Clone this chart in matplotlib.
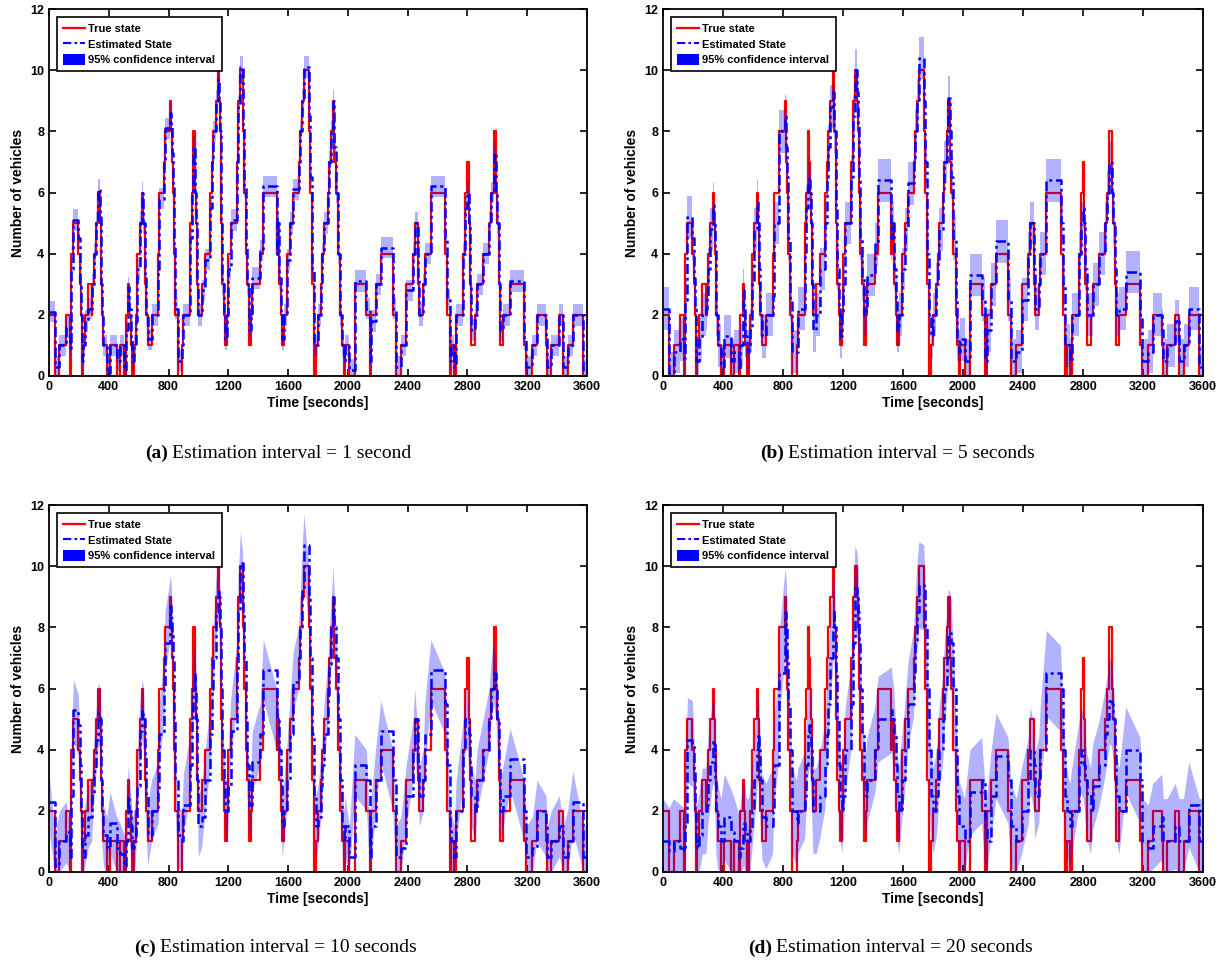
import numpy as np
import matplotlib.pyplot as plt
from matplotlib.patches import Patch
from matplotlib.lines import Line2D

# true state: time where each step starts and the vehicle count
t_true = [0, 40, 70, 115, 140, 145, 163, 196, 205, 212, 218, 228, 240, 263, 285, 290, 300, 315, 330, 342,
          347, 350, 353, 364, 386, 409, 453, 475, 505, 515, 530, 538, 548, 558, 570, 580, 590, 609, 624, 632,
          640, 648, 660, 686, 731, 738, 770, 776, 813, 819, 823, 828, 835, 845, 860, 890, 899, 944, 955, 965,
          975, 980, 985, 990, 993, 999, 1021, 1045, 1080, 1090, 1100, 1115, 1130, 1138, 1143, 1150, 1160, 1170, 1180, 1192,
          1200, 1215, 1256, 1265, 1280, 1295, 1300, 1308, 1315, 1325, 1340, 1350, 1360, 1412, 1434, 1523, 1528, 1540, 1550, 1560,
          1572, 1590, 1610, 1634, 1670, 1680, 1690, 1705, 1738, 1748, 1760, 1770, 1785, 1800, 1820, 1830, 1840, 1865, 1875, 1890,
          1900, 1910, 1920, 1935, 1950, 1962, 1975, 1980, 2010, 2046, 2124, 2145, 2157, 2185, 2220, 2300, 2320, 2355, 2390, 2436,
          2447, 2470, 2478, 2505, 2514, 2555, 2650, 2665, 2680, 2690, 2712, 2725, 2772, 2785, 2800, 2808, 2815, 2825, 2850, 2865,
          2905, 2945, 2960, 2975, 2990, 3000, 3010, 3020, 3040, 3085, 3180, 3195, 3235, 3265, 3325, 3335, 3360, 3415, 3440, 3470,
          3505, 3575]
v_true = [2, 0, 1, 2, 0, 4, 5, 4, 3, 2, 0, 1, 2, 3, 2, 3, 4, 5, 6, 5,
          4, 3, 2, 1, 0, 1, 0, 1, 0, 2, 3, 2, 1, 0, 1, 2, 4, 5, 6, 5,
          3, 2, 1, 2, 4, 6, 7, 8, 9, 8, 7, 6, 4, 2, 0, 1, 2, 5, 6, 8,
          7, 6, 5, 4, 3, 2, 3, 4, 6, 7, 8, 9, 10, 9, 8, 5, 3, 2, 1, 2,
          4, 5, 7, 9, 10, 9, 8, 6, 4, 3, 1, 2, 3, 4, 6, 4, 5, 3, 2, 1,
          2, 4, 5, 6, 7, 8, 9, 10, 8, 6, 3, 0, 1, 2, 3, 4, 5, 6, 7, 8,
          9, 7, 6, 4, 2, 1, 0, 1, 0, 3, 2, 0, 2, 3, 4, 2, 0, 1, 3, 4,
          5, 3, 2, 3, 4, 6, 4, 2, 0, 1, 0, 2, 4, 6, 7, 5, 3, 1, 2, 3,
          4, 5, 6, 8, 6, 5, 3, 1, 2, 3, 1, 0, 1, 2, 1, 0, 1, 2, 0, 1,
          2, 0]

# estimated state for each step of the true state, one list per estimation interval
est_a = [2.1, 0.3, 1.0, 1.6, 0.9, 3.5, 5.1, 4.5, 3.0, 2.0, 0.5, 1.0, 1.8, 2.2, 2.2, 3.0, 4.0, 5.0, 6.1, 5.2,
         4.0, 3.0, 2.0, 1.0, 0.1, 1.0, 0.5, 1.0, 0.2, 1.5, 2.9, 2.2, 1.2, 0.5, 1.0, 1.8, 3.5, 5.0, 6.0, 5.0,
         3.2, 2.0, 1.2, 2.0, 3.5, 5.8, 7.0, 8.1, 8.6, 8.2, 7.3, 6.2, 4.2, 2.2, 0.5, 1.0, 2.0, 4.5, 6.0, 7.5,
         7.0, 6.0, 5.0, 4.0, 3.0, 2.0, 2.8, 3.8, 5.5, 7.0, 8.0, 9.0, 9.7, 9.0, 8.0, 5.0, 3.0, 2.0, 1.2, 2.0,
         3.5, 5.1, 7.0, 8.8, 10.1, 9.2, 8.2, 6.2, 4.2, 3.0, 1.5, 2.0, 3.2, 4.1, 6.2, 4.0, 5.0, 3.2, 2.0, 1.2,
         2.0, 3.8, 5.0, 6.1, 7.0, 8.0, 9.0, 10.1, 8.5, 6.5, 3.5, 1.0, 1.0, 2.0, 3.0, 4.0, 5.0, 6.0, 7.0, 8.0,
         9.0, 7.5, 6.0, 4.0, 2.0, 1.0, 0.5, 1.0, 0.2, 3.1, 2.2, 0.5, 1.8, 3.0, 4.2, 2.2, 0.3, 1.0, 2.8, 4.0,
         5.0, 3.2, 2.0, 3.0, 4.0, 6.2, 4.5, 2.5, 0.5, 1.0, 0.3, 2.0, 4.0, 5.5, 6.0, 5.0, 3.0, 1.5, 2.0, 3.0,
         4.0, 5.0, 6.0, 7.3, 6.0, 5.0, 3.0, 1.5, 2.0, 3.1, 1.2, 0.3, 1.0, 2.0, 1.2, 0.3, 1.0, 2.0, 0.3, 1.0,
         2.0, 0.2]
est_b = [2.2, 0.1, 0.8, 1.2, 0.6, 2.5, 5.2, 4.5, 3.2, 2.2, 0.5, 0.5, 1.2, 2.0, 2.2, 2.6, 3.5, 4.8, 5.6, 5.0,
         4.2, 3.0, 2.0, 1.0, 0.3, 1.3, 0.5, 0.8, 0.2, 1.0, 2.8, 2.2, 1.3, 0.8, 1.0, 1.5, 3.0, 4.8, 5.7, 5.0,
         3.5, 2.0, 1.3, 2.0, 2.6, 5.0, 6.5, 8.0, 8.5, 8.2, 7.5, 6.5, 4.5, 2.5, 0.8, 0.8, 2.2, 4.0, 5.5, 6.3,
         6.5, 6.0, 5.0, 4.0, 3.0, 1.5, 2.0, 3.5, 5.0, 6.5, 7.5, 8.8, 9.3, 9.0, 8.0, 5.5, 3.5, 2.2, 1.3, 2.0,
         3.0, 5.0, 6.5, 8.5, 10.0, 9.3, 8.2, 6.5, 4.5, 3.2, 2.0, 2.2, 3.3, 4.3, 6.4, 4.5, 5.0, 3.5, 2.5, 1.5,
         2.0, 3.5, 4.8, 6.3, 7.0, 8.0, 9.0, 10.4, 9.0, 7.0, 4.0, 2.0, 1.3, 2.0, 3.0, 3.8, 4.8, 6.0, 7.0, 8.0,
         9.1, 8.0, 6.5, 4.5, 2.5, 1.2, 0.8, 1.2, 0.5, 3.3, 2.5, 0.5, 1.5, 3.0, 4.4, 2.5, 0.5, 0.8, 2.5, 4.0,
         5.0, 3.5, 2.2, 3.0, 4.0, 6.4, 5.0, 3.0, 1.0, 1.0, 0.5, 2.0, 4.0, 5.0, 5.5, 5.0, 3.5, 2.0, 2.0, 3.0,
         4.0, 5.0, 6.0, 7.0, 6.0, 5.0, 3.5, 2.0, 2.2, 3.4, 2.0, 0.5, 0.8, 2.0, 1.5, 0.5, 1.0, 1.8, 0.5, 1.0,
         2.2, 0.3]
est_c = [2.3, 0.2, 1.0, 1.3, 0.5, 2.5, 5.3, 4.8, 3.5, 2.0, 0.8, 0.5, 1.2, 1.8, 2.0, 2.5, 3.3, 4.3, 5.2, 5.0,
         4.2, 3.0, 2.0, 1.2, 0.8, 1.6, 0.8, 0.6, 0.2, 1.0, 2.5, 2.0, 1.5, 0.8, 1.0, 1.5, 2.8, 4.6, 5.3, 5.0,
         3.8, 2.5, 1.2, 2.0, 2.6, 4.5, 6.0, 7.5, 8.7, 8.3, 7.8, 7.0, 5.0, 3.0, 1.2, 1.0, 2.2, 3.5, 5.0, 6.0,
         6.5, 6.0, 5.0, 4.0, 3.0, 1.5, 1.8, 3.0, 4.5, 6.0, 7.0, 8.5, 9.2, 9.0, 8.0, 6.0, 4.0, 3.0, 2.0, 2.0,
         2.8, 4.6, 6.5, 8.5, 10.1, 9.5, 8.5, 7.0, 5.0, 3.5, 2.2, 2.2, 3.6, 4.5, 6.6, 5.0, 5.0, 4.0, 3.0, 1.5,
         2.0, 3.0, 4.5, 6.2, 7.0, 8.0, 9.2, 10.7, 9.0, 7.0, 4.5, 2.5, 1.5, 1.8, 2.8, 3.5, 4.5, 5.8, 6.8, 8.0,
         9.0, 8.0, 7.0, 5.0, 3.0, 1.5, 1.0, 1.5, 0.5, 3.5, 3.0, 0.5, 1.5, 3.0, 4.6, 3.0, 0.5, 0.8, 2.5, 4.0,
         5.0, 3.5, 2.5, 3.0, 4.5, 6.6, 5.5, 3.5, 1.5, 1.0, 0.5, 2.0, 4.0, 5.0, 5.0, 4.5, 3.5, 2.5, 2.0, 3.0,
         4.0, 5.0, 6.0, 6.5, 6.0, 5.0, 3.5, 2.0, 2.5, 3.7, 2.0, 0.5, 0.8, 2.0, 1.5, 0.5, 1.0, 1.5, 0.5, 1.0,
         2.3, 0.5]
est_d = [1.0, 0.7, 1.0, 0.8, 0.7, 1.5, 4.3, 4.2, 3.3, 2.0, 1.0, 0.8, 1.2, 2.0, 2.0, 2.2, 3.0, 3.6, 4.3, 4.2,
         3.0, 2.5, 2.0, 1.5, 1.0, 1.8, 1.3, 1.0, 0.5, 0.8, 1.5, 1.6, 1.3, 1.0, 1.0, 1.4, 2.0, 3.0, 4.0, 4.5,
         4.0, 3.0, 1.8, 1.5, 2.0, 3.5, 5.0, 6.5, 8.5, 8.3, 8.0, 7.0, 5.5, 4.0, 2.0, 1.6, 2.0, 2.5, 3.5, 4.5,
         4.8, 4.5, 4.0, 3.5, 3.0, 2.0, 2.0, 2.5, 3.5, 4.5, 5.5, 7.0, 8.0, 8.5, 8.0, 6.5, 5.0, 3.5, 2.5, 2.0,
         2.5, 4.0, 5.5, 7.5, 9.3, 9.0, 8.5, 7.5, 6.0, 4.5, 3.0, 2.5, 3.0, 4.0, 5.0, 5.3, 5.0, 4.5, 3.5, 2.5,
         2.0, 3.0, 4.0, 5.5, 6.5, 7.5, 8.5, 9.4, 9.3, 8.0, 6.0, 4.0, 2.5, 2.0, 2.5, 3.0, 4.0, 5.0, 6.0, 7.0,
         7.8, 7.8, 7.5, 6.0, 4.0, 2.5, 1.5, 1.5, 1.0, 2.6, 3.0, 1.5, 1.0, 2.5, 3.8, 3.0, 1.5, 1.0, 2.0, 3.0,
         4.0, 3.5, 2.5, 3.0, 4.0, 6.5, 6.0, 4.0, 2.5, 2.0, 1.5, 2.0, 3.5, 4.0, 3.8, 3.5, 3.0, 2.5, 2.0, 2.8,
         3.5, 4.5, 5.0, 5.6, 5.5, 5.0, 4.0, 2.5, 2.0, 4.0, 3.0, 1.0, 0.8, 1.5, 1.8, 1.0, 1.0, 1.5, 1.0, 1.0,
         2.2, 1.0]

# half width of the 95% confidence band per panel
half_width = [0.35, 0.7, 1.0, 1.4]

captions = [("(a)", "Estimation interval = 1 second"),
            ("(b)", "Estimation interval = 5 seconds"),
            ("(c)", "Estimation interval = 10 seconds"),
            ("(d)", "Estimation interval = 20 seconds")]

t_end = 3600
t_step = np.append(t_true, t_end)
v_step = np.append(v_true, v_true[-1])

fig = plt.figure(figsize=(12.31, 9.65), dpi=100)

# axes boxes in pixel terms of the 1231x965 picture
boxes = [(49, 9, 587, 376), (663, 9, 1203, 376), (49, 505, 587, 872), (663, 505, 1203, 872)]
cap_pos = [(168, 453), (784, 453), (156, 948), (772, 948)]
band_step = ["post", "post", None, None]     # short intervals look blocky, long ones taper

dashdot = (0, (4, 1.5, 1.2, 1.5))

for i, est in enumerate([est_a, est_b, est_c, est_d]):
    x0, y0, x1, y1 = boxes[i]
    ax = fig.add_axes([x0 / 1231, 1 - y1 / 965, (x1 - x0) / 1231, (y1 - y0) / 965])
    e_step = np.append(est, est[-1])
    lo = np.clip(e_step - half_width[i], 0, None)
    hi = e_step + half_width[i]

    ax.step(t_step, v_step, where="post", color="red", lw=1.6, zorder=2)
    ax.fill_between(t_step, lo, hi, step=band_step[i], color="blue", alpha=0.3, lw=0, zorder=3)
    ax.step(t_step, e_step, where="post", color="blue", lw=1.8, ls=dashdot, zorder=4)

    ax.set_xlim(0, 3600)
    ax.set_ylim(0, 12)
    ax.set_xticks(np.arange(0, 3601, 400))
    ax.set_yticks(np.arange(0, 13, 2))
    ax.tick_params(direction="in", top=True, right=True, length=5, width=1.2, labelsize=9)
    for lab in ax.get_xticklabels() + ax.get_yticklabels():
        lab.set_fontweight("bold")
        lab.set_family("Liberation Sans")
    for sp in ax.spines.values():
        sp.set_linewidth(1.3)
    ax.set_xlabel("Time [seconds]", fontsize=10, fontweight="bold", family="Liberation Sans", labelpad=2)
    ax.set_ylabel("Number of vehicles", fontsize=10, fontweight="bold", family="Liberation Sans", labelpad=4)

    handles = [Line2D([], [], color="red", lw=1.6),
               Line2D([], [], color="blue", lw=1.5, ls=dashdot),
               Patch(facecolor="blue", edgecolor="none")]
    leg = ax.legend(handles, ["True state", "Estimated State", "95% confidence interval"],
                    loc="upper left", fancybox=False, edgecolor="black", framealpha=1,
                    prop={"family": "Liberation Sans", "weight": "bold", "size": 8},
                    handlelength=2.0, handleheight=1.2, handletextpad=0.3,
                    borderaxespad=0.7, labelspacing=0.35, borderpad=0.55)
    leg.get_frame().set_linewidth(1.2)

    cx, cy = cap_pos[i]
    fig.text(cx / 1231, 1 - cy / 965, captions[i][0], ha="right", va="center",
             fontsize=14, fontweight="bold", family="Liberation Serif")
    fig.text((cx + 4) / 1231, 1 - cy / 965, captions[i][1], ha="left", va="center",
             fontsize=14, family="Liberation Serif")

fig.savefig("out.png", dpi=100)
